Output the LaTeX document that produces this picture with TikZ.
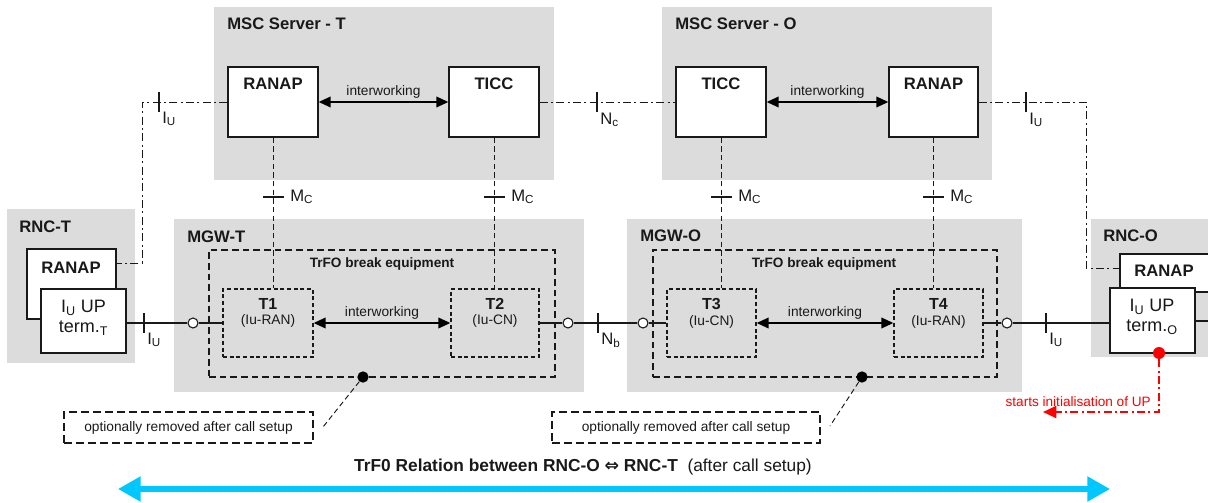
\documentclass[tikz,border=0pt]{standalone}
\usepackage{fontspec}
\setmainfont{Liberation Sans}
\newfontfamily\djv{DejaVu Sans}
\usetikzlibrary{fit,arrows.meta}
\definecolor{grayc}{RGB}{220,220,220}
\definecolor{cyanc}{RGB}{0,200,255}
\definecolor{linec}{RGB}{25,25,25}
\begin{document}
\begin{tikzpicture}[x=0.75pt,y=-0.75pt,
  graybox/.style={fill=grayc,draw=none,inner sep=0pt},
  wbox/.style={draw=linec,fill=white,line width=1pt,inner sep=0pt},
  dbox/.style={draw=linec,line width=1pt,dash pattern=on 3pt off 2pt,inner sep=0pt},
  tbox/.style={draw=linec,line width=1.2pt,dash pattern=on 5pt off 3pt,inner sep=0pt},
  odbox/.style={draw=linec,line width=0.8pt,dash pattern=on 6pt off 3pt,inner sep=0pt},
  ddline/.style={draw=linec,line width=0.7pt,dash pattern=on 6pt off 2.5pt on 1.5pt off 2.5pt},
  mcline/.style={draw=linec,line width=0.7pt,dash pattern=on 4pt off 2.5pt},
  uline/.style={draw=linec,line width=0.8pt},
  tick/.style={draw=linec,line width=0.8pt},
  iwarrow/.style={draw=black,line width=1.2pt,{Triangle[length=9pt,width=8pt]}-{Triangle[length=9pt,width=8pt]}},
  ring/.style={circle,draw=linec,fill=white,line width=0.8pt,minimum size=7.5pt,inner sep=0pt},
  blob/.style={circle,fill=black,minimum size=8.5pt,inner sep=0pt},
  title/.style={font=\fontsize{12.5}{14}\selectfont\bfseries,anchor=west,inner sep=0pt,text=linec},
  blbl/.style={font=\fontsize{12.5}{14}\selectfont\bfseries,inner sep=0pt,text=linec},
  tlbl/.style={font=\fontsize{12}{14}\selectfont\bfseries,inner sep=0pt,text=linec},
  trlbl/.style={font=\fontsize{10.2}{12}\selectfont\bfseries,inner sep=0pt,text=linec},
  slbl/.style={font=\fontsize{10.3}{12}\selectfont,inner sep=0pt,text=linec},
  iulbl/.style={font=\fontsize{13.5}{15}\selectfont,inner sep=0pt,align=center,text=linec},
  iflbl/.style={font=\fontsize{12.5}{14}\selectfont,anchor=west,inner sep=0pt,text=linec},
]
\useasboundingbox (0,0) rectangle (1208,503);
\clip (0,0) rectangle (1208,503);

% grey containers
\node[graybox,fit={(214,7)(554,180)}] (msct) {};
\node[graybox,fit={(662,7)(992,180)}] (msco) {};
\node[graybox,fit={(7,209)(135,363)}] (rnct) {};
\node[graybox,fit={(174,219)(584,392)}] (mgwt) {};
\node[graybox,fit={(627,219)(1022,392)}] (mgwo) {};
\node[graybox,fit={(1091,219)(1215,357)}] (rnco) {};

\node[title] (tmsct) at (227,24) {MSC Server - T};
\node[title] (tmsco) at (675,24) {MSC Server - O};
\node[title] (trnct) at (19,227) {RNC-T};
\node[title] (tmgwt) at (187,237) {MGW-T};
\node[title] (tmgwo) at (640,236) {MGW-O};
\node[title] (trnco) at (1103,236) {RNC-O};

% MSC server boxes
\node[wbox,fit={(228,67)(318,137)}] (ranapT) {};
\node[blbl] (lranapT) at (273,84) {RANAP};
\node[wbox,fit={(449,67)(539,137)}] (ticcT) {};
\node[blbl] (lticcT) at (494,84) {TICC};
\node[wbox,fit={(676,67)(766,137)}] (ticcO) {};
\node[blbl] (lticcO) at (721,84) {TICC};
\node[wbox,fit={(889,67)(978,137)}] (ranapO) {};
\node[blbl] (lranapO) at (933.5,84) {RANAP};

\draw[iwarrow] (ranapT.east) -- node[slbl,above=2pt]{interworking} (ticcT.west);
\draw[iwarrow] (ticcO.east) -- node[slbl,above=2pt]{interworking} (ranapO.west);

% RNC-T
\node[wbox,fit={(27,249)(116,319)}] (rranapT) {};
\node[blbl] (lrranapT) at (71,268) {RANAP};
\node[wbox,fit={(41,289)(126,353)}] (iuT) {};
\node[iulbl] (liuT) at (83.5,318) {I\textsubscript{U} UP\\term.\textsubscript{T}};

% RNC-O
\node[wbox,fit={(1120,254)(1215,292)}] (rranapO) {};
\node[blbl] (lrranapO) at (1164,271) {RANAP};
\node[wbox,fit={(1110,288)(1195,353)}] (iuO) {};
\node[iulbl] (liuO) at (1152,317) {I\textsubscript{U} UP\\term.\textsubscript{O}};

% MGW-T
\node[tbox,fit={(209,250)(555,377)}] (trfoT) {};
\node[trlbl] (ltrfoT) at (382,264) {TrFO break equipment};
\node[dbox,fit={(223,289)(313,357)}] (t1) {};
\node[tlbl] (lt1) at (268,304) {T1};
\node[slbl] (lt1b) at (268,321) {(Iu-RAN)};
\node[dbox,fit={(451,289)(539,357)}] (t2) {};
\node[tlbl] (lt2) at (495,304) {T2};
\node[slbl] (lt2b) at (495,321) {(Iu-CN)};
\draw[iwarrow] (t1.east) -- node[slbl,above=2pt]{interworking} (t2.west);

% MGW-O
\node[tbox,fit={(653,250)(997,377)}] (trfoO) {};
\node[trlbl] (ltrfoO) at (824,264) {TrFO break equipment};
\node[dbox,fit={(667,289)(756,357)}] (t3) {};
\node[tlbl] (lt3) at (711.5,304) {T3};
\node[slbl] (lt3b) at (711.5,322) {(Iu-CN)};
\node[dbox,fit={(894,289)(983,357)}] (t4) {};
\node[tlbl] (lt4) at (938.5,304) {T4};
\node[slbl] (lt4b) at (938.5,322) {(Iu-RAN)};
\draw[iwarrow] (t3.east) -- node[slbl,above=2pt]{interworking} (t4.west);

% user plane
\node[ring] (rt1) at (193,323) {};
\node[ring] (rt2) at (568,323) {};
\node[ring] (ro1) at (643,323) {};
\node[ring] (ro2) at (1007,323) {};
\coordinate (redge) at (1212,321);
\draw[uline] (iuT.east |- rt1) -- (rt1);
\draw[uline] (rt1) -- (rt1 -| t1.west);
\draw[uline] (t2.east |- rt2) -- (rt2);
\draw[uline] (rt2) -- (ro1);
\draw[uline] (ro1) -- (ro1 -| t3.west);
\draw[uline] (t4.east |- ro2) -- (ro2);
\draw[uline] (ro2) -- (ro2 -| iuO.west);
\draw[uline] (iuO.east |- redge) -- (redge);

\draw[tick] (144,313) -- (144,333);
\node[iflbl] (iu1) at (147,340) {I\textsubscript{U}};
\draw[tick] (598,313) -- (598,333);
\node[iflbl] (nb) at (601,340) {N\textsubscript{b}};
\draw[tick] (1046,313) -- (1046,333);
\node[iflbl] (iu2) at (1049,340) {I\textsubscript{U}};

% Mc
\draw[mcline] (ranapT.south) -- (ranapT.south |- t1.north);
\draw[mcline] (ticcT.south) -- (ticcT.south |- t2.north);
\draw[mcline] (ticcO.south) -- (ticcO.south |- t3.north);
\draw[mcline] (ranapO.south) -- (ranapO.south |- t4.north);
\draw[tick] (263,197) -- (284,197);
\node[iflbl] (mc1) at (290,197) {M\textsubscript{C}};
\draw[tick] (484,197) -- (505,197);
\node[iflbl] (mc2) at (511,197) {M\textsubscript{C}};
\draw[tick] (711,197) -- (732,197);
\node[iflbl] (mc3) at (738,197) {M\textsubscript{C}};
\draw[tick] (923,197) -- (944,197);
\node[iflbl] (mc4) at (950,197) {M\textsubscript{C}};

% signalling
\coordinate (a1) at (142,102);
\coordinate (a2) at (142,263);
\draw[ddline] (ranapT.west) -- (a1) -- (a2) -- (a2 -| rranapT.east);
\draw[tick] (159,92) -- (159,112);
\node[iflbl] (iu3) at (162,119) {I\textsubscript{U}};
\draw[ddline] (ticcT.east) -- (ticcO.west);
\draw[tick] (597,92) -- (597,112);
\node[iflbl] (nc) at (600,120) {N\textsubscript{c}};
\coordinate (b1) at (1086,102);
\coordinate (b2) at (1086,268);
\draw[ddline] (ranapO.east) -- (b1) -- (b2) -- (b2 -| rranapO.west);
\draw[tick] (1026,92) -- (1026,112);
\node[iflbl] (iu4) at (1029,120) {I\textsubscript{U}};

% optional notes
\node[odbox,fit={(64,412)(313,443)}] (opt1) {};
\node[slbl] (lopt1) at (188.5,427.5) {optionally removed after call setup};
\node[blob] (d1) at (363,377) {};
\coordinate (e1) at (323,427);
\draw[mcline] (d1) -- (e1);
\node[odbox,fit={(552,412)(820,443)}] (opt2) {};
\node[slbl] (lopt2) at (686,427.5) {optionally removed after call setup};
\node[blob] (d2) at (862,377) {};
\coordinate (e2) at (830,426);
\draw[mcline] (d2) -- (e2);

% red initialisation
\node[circle,fill=red,minimum size=9pt,inner sep=0pt] (rd) at (1159,353) {};
\coordinate (r1) at (1160,412);
\coordinate (r2) at (1043,412);
\draw[red,line width=1.5pt,dash pattern=on 6pt off 2.5pt on 1.5pt off 2.5pt,-{Triangle[length=10pt,width=9pt]}] (rd) -- (rd |- r1) -- (r2);
\node[font=\fontsize{10.2}{12}\selectfont,text=red,anchor=east,inner sep=0pt] (lred) at (1151,402) {starts initialisation of UP};

% TrFO relation
\coordinate (cy1) at (118,489);
\coordinate (cy2) at (1110,489);
\draw[cyanc,line width=4pt,{Triangle[length=17pt,width=18pt]}-{Triangle[length=17pt,width=18pt]}] (cy1) -- (cy2);
\node[font=\fontsize{13}{15}\selectfont,inner sep=0pt,text=linec] (lrel) at (583,467) {\textbf{TrF0 Relation between RNC-O} {\djv\bfseries ⇔} \textbf{RNC-T}\ \ (after call setup)};
\end{tikzpicture}
\end{document}
